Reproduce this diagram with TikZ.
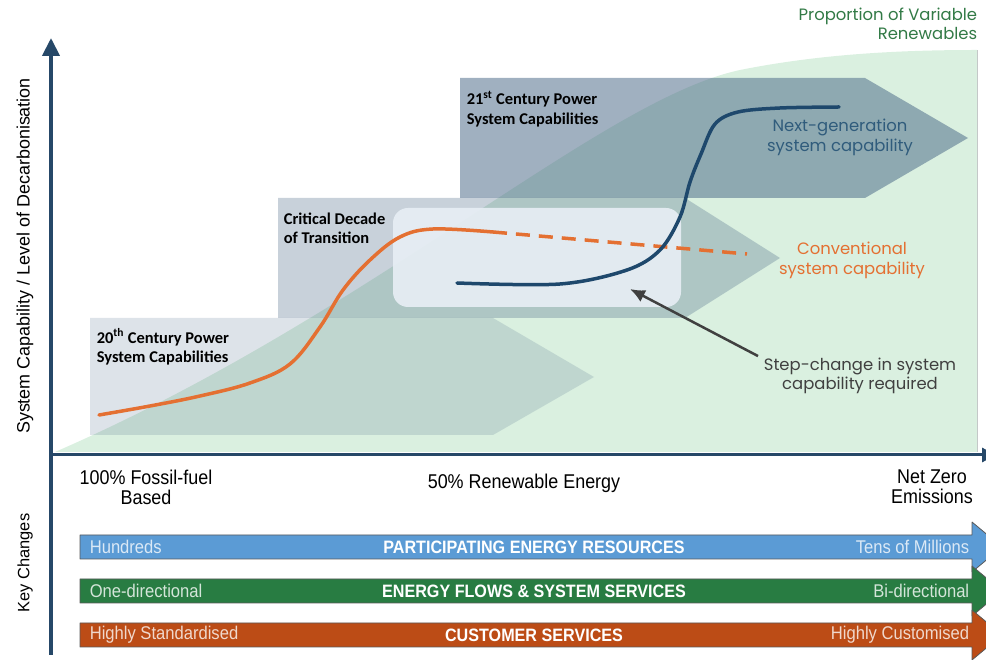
\documentclass[tikz,border=0pt]{standalone}
\usepackage{fontspec}
\setmainfont{Liberation Sans}
\newfontfamily\capfont{Carlito}
\newfontfamily\notefont{Poppins}
\newfontfamily\narrowfont[FakeStretch=0.9]{Liberation Sans}
\usetikzlibrary{arrows,arrows.meta,shapes}

\definecolor{axiscol}{RGB}{38,72,104}
\definecolor{greenfill}{RGB}{218,240,224}
\definecolor{edgegrey}{RGB}{196,200,200}
\definecolor{boxcol}{RGB}{76,106,136}
\definecolor{stepfill}{RGB}{232,239,245}
\definecolor{oldcol}{RGB}{228,112,50}
\definecolor{newcol}{RGB}{30,72,108}
\definecolor{nextcol}{RGB}{48,92,124}
\definecolor{notecol}{RGB}{64,64,64}
\definecolor{propgreen}{RGB}{50,122,70}
\definecolor{barblue}{RGB}{91,155,213}
\definecolor{bargreen}{RGB}{40,124,66}
\definecolor{barbrown}{RGB}{188,76,22}

\begin{document}
\begin{tikzpicture}[>=latex',line join=bevel,
  boxlabel/.style={anchor=west,align=left,font=\capfont\bfseries\fontsize{16.5}{19.5}\selectfont},
  axislabel/.style={align=center,font=\narrowfont\fontsize{20}{20}\selectfont},
  barside/.style={font=\narrowfont\fontsize{18.5}{18}\selectfont},
  barmid/.style={text=white,font=\narrowfont\bfseries\fontsize{18}{18}\selectfont},
  keybar/.style={draw=black!65,line width=0.8bp},
]

\pgfsetlinewidth{1bp}
\useasboundingbox (0bp,0bp) rectangle (986bp,660bp);

% Area: proportion of variable renewables
\fill[greenfill] (55bp,208bp) .. controls (370bp,345bp) and (600bp,560bp) .. (740bp,590bp)
  .. controls (820bp,606bp) and (900bp,610bp) .. (977bp,610bp) -- (977bp,208bp) -- cycle;
\draw[edgegrey] (977bp,208bp) -- (977bp,610bp);

% Band: 20th century
\fill[boxcol,opacity=0.19] (90bp,342bp) -- (493bp,342bp) -- (594bp,283bp) -- (493bp,225bp) -- (90bp,225bp) -- cycle;
% Band: critical decade
\fill[boxcol,opacity=0.31] (278bp,462bp) -- (685bp,462bp) -- (780bp,402bp) -- (685bp,342bp) -- (278bp,342bp) -- cycle;
% Band: 21st century
\fill[boxcol,opacity=0.53] (460bp,582bp) -- (865bp,582bp) -- (968bp,522bp) -- (865bp,462bp) -- (460bp,462bp) -- cycle;

% Node: step
\node (stepbox) [fill=stepfill,opacity=0.9,rounded corners=15bp,minimum width=288bp,minimum height=99bp] at (537bp,402.5bp) {};

% Curve: conventional
\draw[oldcol,line width=3.5bp,line cap=round] plot[smooth,tension=0.6] coordinates {(99bp,245bp) (150bp,254bp) (200bp,264bp) (250bp,277bp) (290bp,296bp) (320bp,333bp) (343bp,370bp) (370bp,400bp) (400bp,423bp) (433bp,431bp) (493bp,428bp)};
\draw[oldcol,line width=3.5bp,dash pattern=on 14bp off 9bp] (493bp,428bp) -- (747bp,406bp);

% Curve: next generation
\draw[newcol,line width=3.5bp,line cap=round] plot[smooth,tension=0.55] coordinates {(457bp,377bp) (560bp,376bp) (627bp,390bp) (660bp,410bp) (680bp,443bp) (690bp,478bp) (701bp,506bp) (715bp,536bp) (738bp,548bp) (780bp,552bp) (839bp,553bp)};

% Axes
\draw[axiscol,line width=4bp,-{Triangle[length=18bp,width=17bp]}] (51bp,5bp) -- (51bp,622bp);
\draw[axiscol,line width=3bp,-{Triangle[length=14bp,width=14bp]}] (49bp,205bp) -- (996bp,205bp);

% Node: labels
\node (prop) [anchor=east,align=right,text=propgreen,font=\notefont\fontsize{16.5}{19}\selectfont] at (981bp,636bp) {Proportion of Variable\\Renewables};
\node (yname) [rotate=90,font=\fontsize{18}{20}\selectfont] at (25bp,404bp) {System Capability / Level of Decarbonisation};
\node (keyname) [rotate=90,font=\fontsize{16.5}{20}\selectfont] at (25bp,97bp) {Key Changes};

\node (cent20) [boxlabel] at (93bp,313bp) {20\textsuperscript{th} Century Power\\System Capabilities};
\node (decade) [boxlabel] at (280bp,432bp) {Critical Decade\\of Transition};
\node (cent21) [boxlabel] at (463bp,551bp) {21\textsuperscript{st} Century Power\\System Capabilities};

\node (nextgen) [align=center,text=nextcol,font=\notefont\fontsize{16.5}{20}\selectfont] at (840bp,523bp) {Next-generation\\system capability};
\node (conv) [align=center,text=oldcol,font=\notefont\fontsize{16.5}{20}\selectfont] at (852bp,400bp) {Conventional\\system capability};
\node (stepnote) [align=center,text=notecol,font=\notefont\fontsize{16.5}{19.5}\selectfont] at (860bp,284bp) {Step-change in system\\capability required};

% Edge: stepnote -> stepbox
\coordinate (stepin) at (630bp,371bp);
\draw[notecol,line width=2.5bp,-{Latex[length=15bp,width=13bp]}] ([xshift=-2bp,yshift=-2bp]stepnote.north west) -- (stepin);

% Node: x axis marks
\node (fossil) [axislabel] at (146bp,173bp) {100\% Fossil-fuel\\Based};
\node (half) [axislabel] at (524bp,177bp) {50\% Renewable Energy};
\node (netzero) [axislabel] at (932bp,173bp) {Net Zero\\Emissions};

% Bar: participating energy resources
\draw[keybar,fill=barblue] (80bp,125bp) -- (972bp,125bp) -- (972bp,138bp) -- (1002bp,113bp) -- (972bp,88bp) -- (972bp,101bp) -- (80bp,101bp) -- cycle;
\node (res1) [barside,anchor=west,text=white!78!barblue] at (86bp,113bp) {Hundreds};
\node (res2) [barmid] at (534bp,113bp) {PARTICIPATING ENERGY RESOURCES};
\node (res3) [barside,anchor=east,text=white!78!barblue] at (973bp,113bp) {Tens of Millions};

% Bar: energy flows
\draw[keybar,fill=bargreen] (80bp,81bp) -- (972bp,81bp) -- (972bp,94bp) -- (1002bp,69bp) -- (972bp,44bp) -- (972bp,57bp) -- (80bp,57bp) -- cycle;
\node (flow1) [barside,anchor=west,text=white!80!bargreen] at (86bp,69bp) {One-directional};
\node (flow2) [barmid] at (534bp,69bp) {ENERGY FLOWS \& SYSTEM SERVICES};
\node (flow3) [barside,anchor=east,text=white!80!bargreen] at (973bp,69bp) {Bi-directional};

% Bar: customer services
\draw[keybar,fill=barbrown] (80bp,37bp) -- (972bp,37bp) -- (972bp,50bp) -- (1002bp,25bp) -- (972bp,0bp) -- (972bp,13bp) -- (80bp,13bp) -- cycle;
\node (cust1) [barside,anchor=west,text=white!78!barbrown] at (86bp,25bp) {Highly Standardised};
\node (cust2) [barmid] at (534bp,25bp) {CUSTOMER SERVICES};
\node (cust3) [barside,anchor=east,text=white!78!barbrown] at (973bp,25bp) {Highly Customised};

\end{tikzpicture}
\end{document}
